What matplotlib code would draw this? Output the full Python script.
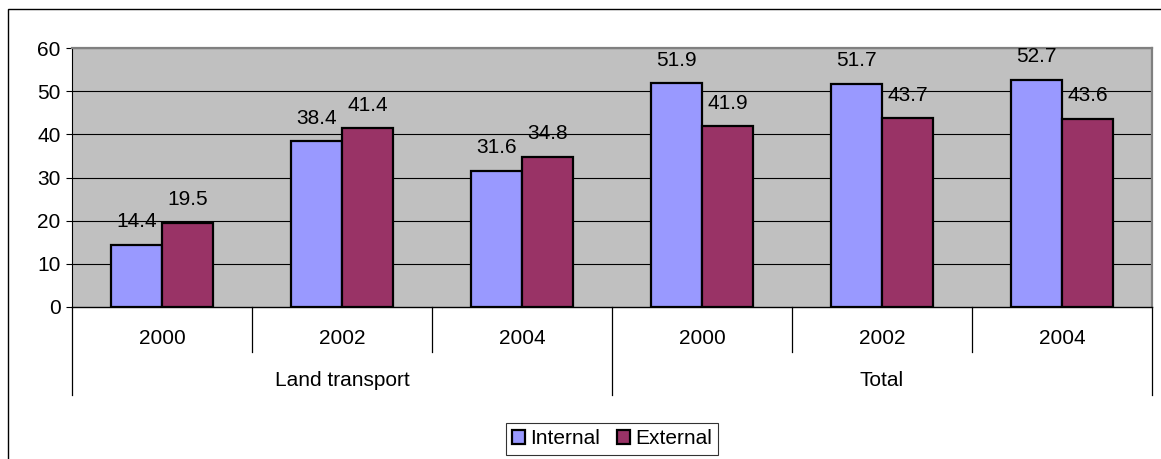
import matplotlib.pyplot as plt
import matplotlib.transforms as mtransforms
from matplotlib.patches import Rectangle, Patch

plt.rcParams["font.family"] = ["Liberation Sans", "DejaVu Sans"]

groups = ["Land transport", "Total"]
years = ["2000", "2002", "2004"]
internal = [14.4, 38.4, 31.6, 51.9, 51.7, 52.7]
external = [19.5, 41.4, 34.8, 41.9, 43.7, 43.6]
series_names = ["Internal", "External"]
colors = ["#9999FF", "#993366"]

W, H = 1161, 459
fig = plt.figure(figsize=(W / 100, H / 100), dpi=100)
ax = fig.add_axes([72 / W, 152 / H, 1080 / W, 259 / H])
ax.set_facecolor("#C0C0C0")

n = len(internal)
bar_w = 1 / 3.5
centers = [i + 0.5 for i in range(n)]
fs = 15

for vals, color, sign in [(internal, colors[0], -1), (external, colors[1], 1)]:
    xs = [c + sign * bar_w / 2 for c in centers]
    ax.bar(xs, vals, width=bar_w, color=color, edgecolor="black", linewidth=1.6, zorder=3)
    for x, v in zip(xs, vals):
        ax.annotate(f"{v}", (x, v), xytext=(0, 16.5), textcoords="offset points",
                    ha="center", va="center", fontsize=fs, zorder=4)

ax.set_xlim(0, n)
ax.set_ylim(0, 60)
ax.set_yticks(range(0, 61, 10))
ax.set_xticks([])
ax.tick_params(axis="y", direction="out", length=4.3, width=0.8, labelsize=fs, pad=4)
for y in range(10, 61, 10):
    ax.axhline(y, color="black", linewidth=0.8, zorder=1)

ax.spines["left"].set_color("black")
ax.spines["bottom"].set_color("black")
ax.spines["bottom"].set_linewidth(1.0)
for side in ["top", "right"]:
    ax.spines[side].set_color("#808080")
    ax.spines[side].set_linewidth(1.6)
ax.spines["bottom"].set_zorder(5)

# two-level category axis below the plot
trans = mtransforms.blended_transform_factory(ax.transData, ax.transAxes)
year_drop, group_drop = -0.174, -0.340
for i in range(n + 1):
    depth = group_drop if i % 3 == 0 else year_drop
    ax.plot([i, i], [0, depth], transform=trans, color="black", linewidth=0.9, clip_on=False)
for i, c in enumerate(centers):
    ax.text(c, -0.120, years[i % 3], transform=trans, ha="center", va="center", fontsize=fs)
for g, name in enumerate(groups):
    ax.text(g * 3 + 1.5, -0.282, name, transform=trans, ha="center", va="center", fontsize=fs)

# chart area border
fig.patches.append(Rectangle((8 / W, -0.5), 2, 1.5 - 9 / H, transform=fig.transFigure,
                             fill=False, edgecolor="black", linewidth=1.0))

handles = [Patch(facecolor=c, edgecolor="black", linewidth=1.6) for c in colors]
leg = fig.legend(handles, series_names, loc="center", bbox_to_anchor=(612 / W, 1 - 439 / H),
                 ncol=2, fontsize=fs, frameon=True, fancybox=False, edgecolor="black",
                 handlelength=0.62, handleheight=0.62, handletextpad=0.25,
                 columnspacing=0.8, borderpad=0.3, borderaxespad=0)
leg.get_frame().set_linewidth(0.8)

fig.savefig("out.png", dpi=100)
